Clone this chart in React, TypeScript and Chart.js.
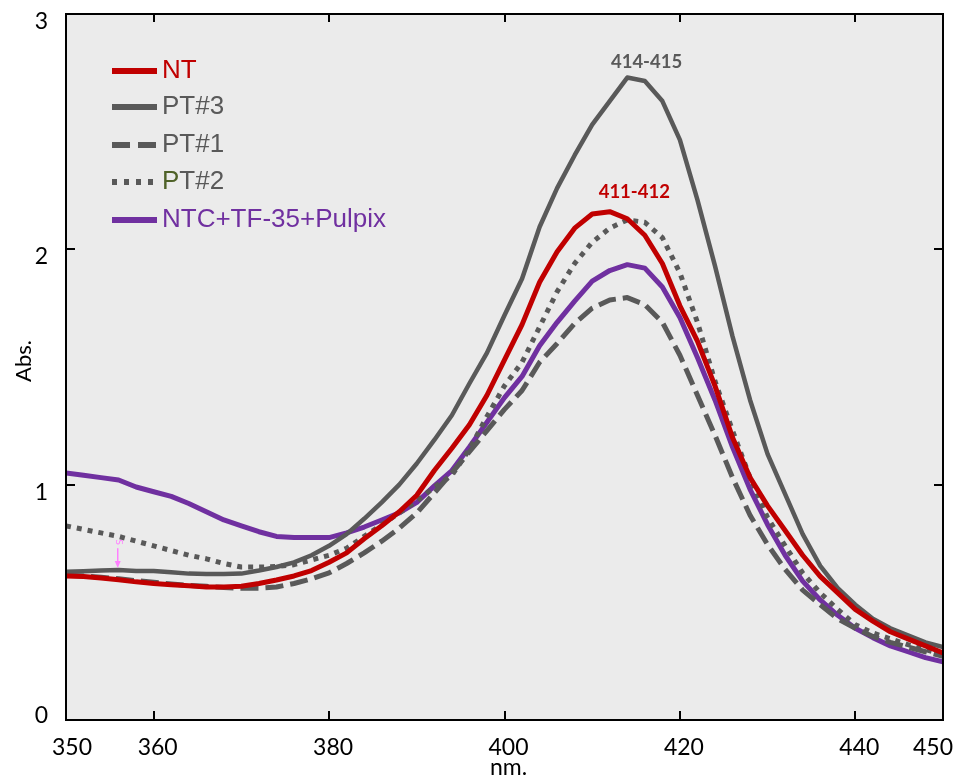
import React, { useEffect, useRef } from 'react';
import { Chart, registerables } from 'chart.js';

Chart.register(...registerables);

// Wavelength (nm)
const wavelengths = [
  350, 352, 354, 356, 358, 360, 362, 364, 366, 368,
  370, 372, 374, 376, 378, 380, 382, 384, 386, 388,
  390, 392, 394, 396, 398, 400, 402, 404, 406, 408,
  410, 412, 414, 416, 418, 420, 422, 424, 426, 428,
  430, 432, 434, 436, 438, 440, 442, 444, 446, 448, 450,
];

const NT = [
  0.612, 0.61, 0.603, 0.596, 0.587, 0.58, 0.575, 0.57, 0.565, 0.565,
  0.568, 0.58, 0.595, 0.612, 0.635, 0.67, 0.71, 0.77, 0.825, 0.885,
  0.955, 1.06, 1.155, 1.255, 1.38, 1.53, 1.68, 1.86, 1.99, 2.09,
  2.15, 2.16, 2.13, 2.06, 1.94, 1.76, 1.61, 1.42, 1.2, 1.03,
  0.91, 0.805, 0.7, 0.61, 0.54, 0.47, 0.42, 0.375, 0.345, 0.315, 0.285,
];

const PT3 = [
  0.63, 0.632, 0.635, 0.637, 0.633, 0.633, 0.628, 0.622, 0.62, 0.62,
  0.622, 0.635, 0.65, 0.67, 0.7, 0.74, 0.79, 0.855, 0.925, 1.0,
  1.09, 1.19, 1.295, 1.43, 1.56, 1.72, 1.875, 2.095, 2.26, 2.4,
  2.53, 2.63, 2.73, 2.715, 2.63, 2.465, 2.21, 1.93, 1.63, 1.36,
  1.13, 0.96, 0.79, 0.655, 0.56, 0.49, 0.43, 0.39, 0.36, 0.33, 0.31,
];

const PT1 = [
  0.615, 0.612, 0.607, 0.6, 0.592, 0.585, 0.578, 0.572, 0.568, 0.563,
  0.56, 0.56, 0.565, 0.58, 0.6, 0.625, 0.665, 0.71, 0.76, 0.815,
  0.88, 0.965, 1.05, 1.14, 1.23, 1.32, 1.4, 1.52, 1.6, 1.685,
  1.75, 1.785, 1.795, 1.765, 1.69, 1.55, 1.38, 1.21, 1.03, 0.87,
  0.745, 0.64, 0.552, 0.49, 0.43, 0.39, 0.355, 0.33, 0.31, 0.29, 0.27,
];

const PT2 = [
  0.825, 0.81, 0.795, 0.78, 0.76, 0.74, 0.72, 0.7, 0.685, 0.665,
  0.65, 0.65, 0.652, 0.66, 0.68, 0.7, 0.73, 0.78, 0.83, 0.88,
  0.93, 0.99, 1.04, 1.15, 1.29, 1.42, 1.52, 1.67, 1.82, 1.94,
  2.03, 2.09, 2.125, 2.115, 2.05, 1.9, 1.69, 1.44, 1.23, 1.03,
  0.86, 0.74, 0.625, 0.54, 0.47, 0.405, 0.37, 0.345, 0.32, 0.3, 0.277,
];

const PULPIX = [
  1.05, 1.04, 1.03, 1.02, 0.99, 0.97, 0.95, 0.92, 0.885, 0.85,
  0.825, 0.8, 0.78, 0.775, 0.775, 0.775, 0.795, 0.82, 0.85, 0.88,
  0.925, 0.995, 1.06, 1.16, 1.265, 1.37, 1.46, 1.59, 1.69, 1.78,
  1.865, 1.91, 1.935, 1.92, 1.84, 1.71, 1.54, 1.36, 1.16, 0.98,
  0.83, 0.7, 0.59, 0.51, 0.445, 0.39, 0.35, 0.315, 0.29, 0.265, 0.247,
];

const seriesLabels = ['NT', 'PT#3', 'PT#1', 'PT#2', 'NTC+TF-35+Pulpix'];

const xTickLabels = [350, 360, 380, 400, 420, 440, 450];
const xInnerTicks = [360, 380, 400, 420, 440];
const yTickLabels = [0, 1, 2, 3];
const yInnerTicks = [1, 2];

const peakNotes = [
  { text: '414-415', x: 416.2, y: 2.77, color: '#595959' },
  { text: '411-412', x: 414.8, y: 2.218, color: '#C00000' },
];

const RED = '#C00000';
const GRAY = '#595959';
const PURPLE = '#7030A0';
const GREEN = '#4F6228';

const toPoints = (ys: number[]) => wavelengths.map((x, i) => ({ x, y: ys[i] }));

const overlayPlugin = {
  id: 'overlay',
  beforeDraw(chart: any) {
    const { ctx, chartArea: a } = chart;
    ctx.save();
    ctx.fillStyle = '#EBEBEB';
    ctx.fillRect(a.left, a.top, a.right - a.left, a.bottom - a.top);
    ctx.restore();
  },
  afterDraw(chart: any) {
    const { ctx, chartArea: a } = chart;
    const xs = chart.scales.x;
    const ys = chart.scales.y;
    ctx.save();

    // frame
    ctx.strokeStyle = '#000';
    ctx.lineWidth = 2;
    ctx.strokeRect(a.left, a.top, a.right - a.left, a.bottom - a.top);

    // inward ticks
    ctx.lineWidth = 2;
    ctx.beginPath();
    for (const v of xInnerTicks) {
      const px = Math.round(xs.getPixelForValue(v));
      ctx.moveTo(px, a.bottom);
      ctx.lineTo(px, a.bottom - 9);
      ctx.moveTo(px, a.top);
      ctx.lineTo(px, a.top + 8);
    }
    for (const v of yInnerTicks) {
      const py = Math.round(ys.getPixelForValue(v));
      ctx.moveTo(a.left, py);
      ctx.lineTo(a.left + 9, py);
      ctx.moveTo(a.right, py);
      ctx.lineTo(a.right - 9, py);
    }
    ctx.stroke();

    // tick labels
    ctx.fillStyle = '#000';
    ctx.font = '23px Lato, "Open Sans", sans-serif';
    ctx.textAlign = 'center';
    ctx.textBaseline = 'alphabetic';
    xTickLabels.forEach((v, i) => {
      const shift = i === 0 ? 6 : i === xTickLabels.length - 1 ? -10 : 4;
      ctx.fillText(String(v), xs.getPixelForValue(v) + shift, a.bottom + 35);
    });
    ctx.textAlign = 'right';
    yTickLabels.forEach((v) => {
      const py = ys.getPixelForValue(v);
      ctx.fillText(String(v), a.left - 18, py + (v === 0 ? 3 : 15));
    });

    // axis titles
    ctx.textAlign = 'center';
    ctx.font = '23px Lato, "Open Sans", sans-serif';
    ctx.fillText('nm.', (a.left + a.right) / 2 + 4, a.bottom + 55);
    ctx.save();
    ctx.translate(24, (a.top + a.bottom) / 2 - 6);
    ctx.rotate(-Math.PI / 2);
    ctx.font = '22px Lato, "Open Sans", sans-serif';
    ctx.textBaseline = 'middle';
    ctx.fillText('Abs.', 0, 0);
    ctx.restore();

    // peak annotations
    ctx.font = 'bold 18.5px Lato, "Open Sans", sans-serif';
    ctx.textAlign = 'center';
    ctx.textBaseline = 'alphabetic';
    for (const n of peakNotes) {
      ctx.fillStyle = n.color;
      ctx.fillText(n.text, xs.getPixelForValue(n.x), ys.getPixelForValue(n.y));
    }

    // small pink marker
    const mx = xs.getPixelForValue(355.9);
    const my1 = ys.getPixelForValue(0.73);
    const my2 = ys.getPixelForValue(0.646);
    ctx.strokeStyle = '#FF80FF';
    ctx.fillStyle = '#FF80FF';
    ctx.lineWidth = 1.5;
    ctx.beginPath();
    ctx.moveTo(mx, my1);
    ctx.lineTo(mx, my2 - 5);
    ctx.stroke();
    ctx.beginPath();
    ctx.moveTo(mx - 3, my2 - 7);
    ctx.lineTo(mx + 3, my2 - 7);
    ctx.lineTo(mx, my2);
    ctx.closePath();
    ctx.fill();
    ctx.save();
    ctx.translate(mx + 1, my1 - 6);
    ctx.rotate(Math.PI / 2);
    ctx.font = '9px "DejaVu Sans", sans-serif';
    ctx.textAlign = 'center';
    ctx.textBaseline = 'middle';
    ctx.fillText('S', 0, 0);
    ctx.restore();

    // legend
    const lx1 = a.left + 46;
    const lx2 = a.left + 91;
    const textX = a.left + 96;
    const rows = [57, 93, 131, 168, 206];
    const baseOff = 7;
    ctx.font = '26px "Liberation Sans", Arial, sans-serif';
    ctx.textAlign = 'left';
    ctx.textBaseline = 'alphabetic';
    chart.data.datasets.forEach((ds: any, i: number) => {
      const y = a.top + rows[i];
      ctx.save();
      ctx.strokeStyle = ds.borderColor;
      ctx.lineWidth = 6;
      ctx.lineCap = 'butt';
      ctx.setLineDash(ds.legendDash || []);
      ctx.beginPath();
      ctx.moveTo(lx1, y);
      ctx.lineTo(lx2, y);
      ctx.stroke();
      ctx.restore();
      let tx = textX;
      for (const part of ds.legendParts) {
        ctx.fillStyle = part.c;
        ctx.fillText(part.t, tx, y + baseOff);
        tx += ctx.measureText(part.t).width;
      }
    });

    ctx.restore();
  },
};

export default function App() {
  const ref = useRef<HTMLCanvasElement | null>(null);

  useEffect(() => {
    if (!ref.current) return;
    const common = {
      pointRadius: 0,
      pointHoverRadius: 0,
      borderWidth: 5,
      tension: 0,
      fill: false,
      borderJoinStyle: 'round' as const,
      borderCapStyle: 'butt' as const,
    };
    const chart = new Chart(ref.current, {
      type: 'line',
      data: {
        datasets: [
          {
            ...common,
            label: seriesLabels[0],
            data: toPoints(NT),
            borderColor: RED,
            legendParts: [{ t: seriesLabels[0], c: RED }],
          } as any,
          {
            ...common,
            label: seriesLabels[1],
            data: toPoints(PT3),
            borderColor: GRAY,
            borderWidth: 4.5,
            legendParts: [{ t: seriesLabels[1], c: GRAY }],
          } as any,
          {
            ...common,
            label: seriesLabels[2],
            data: toPoints(PT1),
            borderColor: GRAY,
            borderDash: [18, 7],
            legendDash: [18, 8],
            legendParts: [{ t: seriesLabels[2], c: GRAY }],
          } as any,
          {
            ...common,
            label: seriesLabels[3],
            data: toPoints(PT2),
            borderColor: GRAY,
            borderDash: [5, 6],
            legendDash: [5, 7],
            legendParts: [
              { t: 'P', c: GREEN },
              { t: 'T#2', c: GRAY },
            ],
          } as any,
          {
            ...common,
            label: seriesLabels[4],
            data: toPoints(PULPIX),
            borderColor: PURPLE,
            legendParts: [{ t: seriesLabels[4], c: PURPLE }],
          } as any,
        ],
      },
      options: {
        responsive: false,
        animation: false,
        events: [],
        layout: { padding: { top: 14, right: 12, left: 0, bottom: 0 } },
        plugins: {
          legend: { display: false },
          tooltip: { enabled: false },
          title: { display: false },
        },
        scales: {
          x: {
            type: 'linear',
            min: 350,
            max: 450,
            grid: { display: false, drawTicks: false },
            border: { display: false },
            ticks: { display: false },
            afterFit: (s: any) => {
              s.height = 56;
              s.paddingLeft = 0;
              s.paddingRight = 0;
            },
          },
          y: {
            type: 'linear',
            min: 0,
            max: 3,
            grid: { display: false, drawTicks: false },
            border: { display: false },
            ticks: { display: false, stepSize: 1 },
            afterFit: (s: any) => {
              s.width = 66;
              s.paddingTop = 0;
              s.paddingBottom = 0;
            },
          },
        },
      },
      plugins: [overlayPlugin],
    });
    return () => chart.destroy();
  }, []);

  return (
    <div
      style={{
        position: 'fixed',
        left: 0,
        top: 0,
        width: 955,
        height: 776,
        background: '#fff',
        overflow: 'hidden',
      }}
    >
      <canvas ref={ref} width={955} height={776} style={{ display: 'block' }} />
    </div>
  );
}
